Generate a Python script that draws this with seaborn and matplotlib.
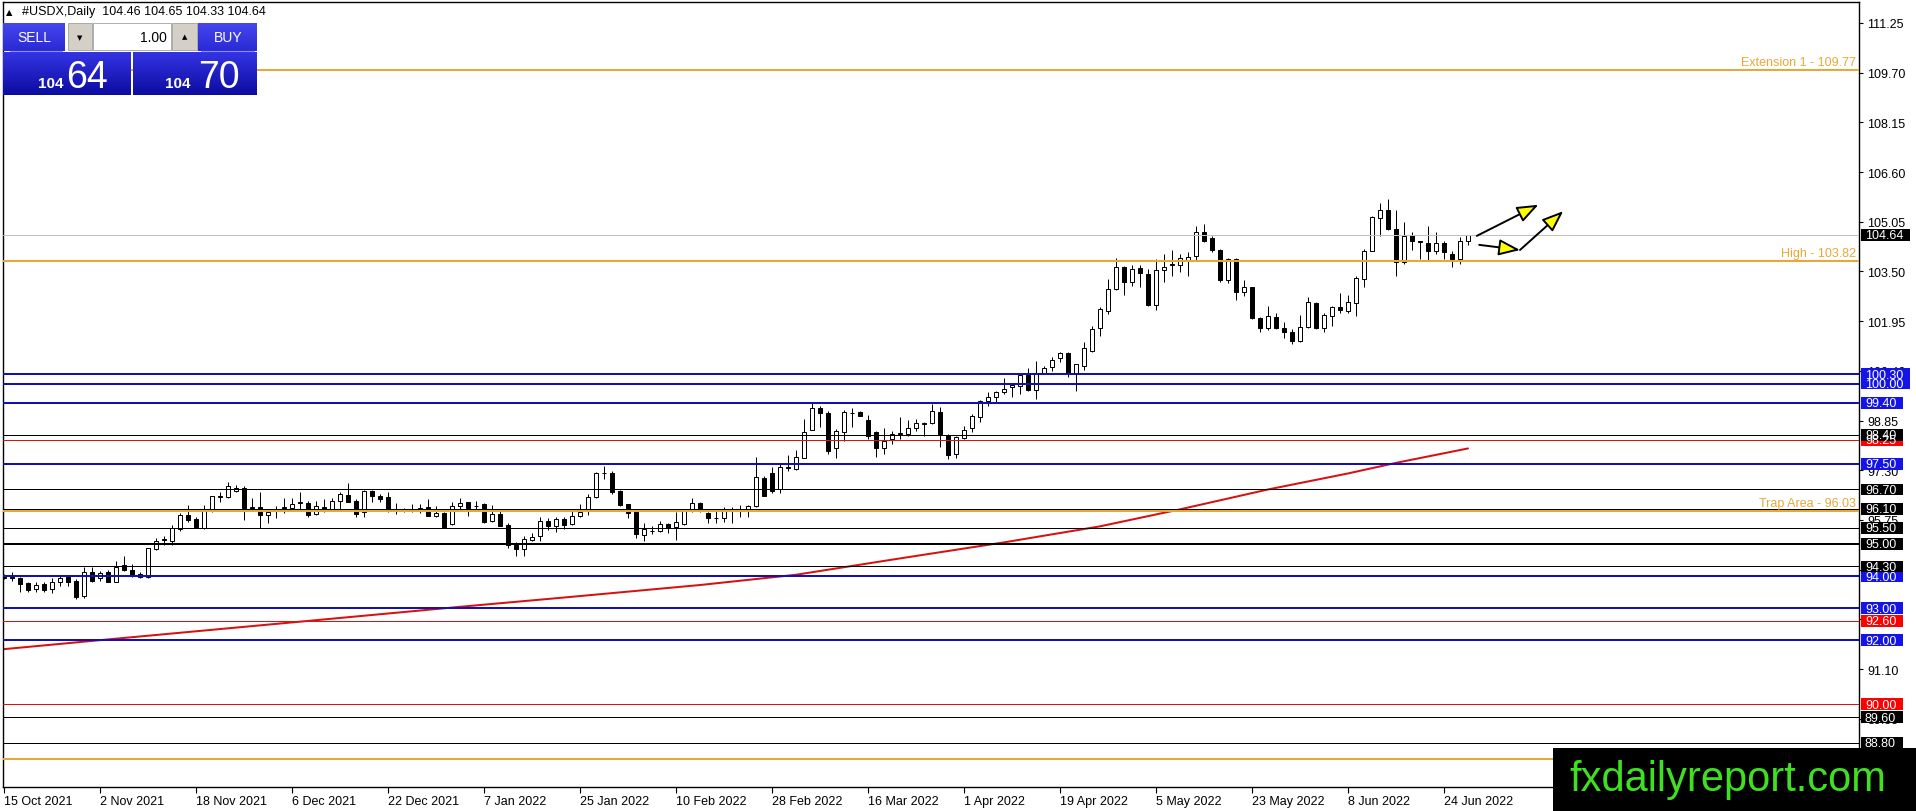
import numpy as np
import pandas as pd
import matplotlib
matplotlib.use("Agg")
import matplotlib.pyplot as plt
import seaborn as sns
from matplotlib.patches import Rectangle

sns.set_theme(style="white")
plt.rcParams["font.family"] = ["Liberation Sans", "DejaVu Sans"]

# ---------------- data ----------------
opens = [93.95, 93.96, 93.93, 93.77, 93.61, 93.74, 93.60, 93.80, 93.96, 93.86,
         93.37, 94.14, 93.93, 94.12, 93.82, 94.33, 94.20, 94.05, 93.96, 94.84,
         95.12, 95.10, 95.47, 95.89, 95.78, 95.49, 96.09, 96.47, 96.46, 96.66,
         96.76, 96.12, 96.16, 95.89, 96.03, 96.12, 96.13, 96.28, 96.27, 95.93,
         96.16, 96.09, 96.35, 96.53, 96.33, 96.01, 96.64, 96.51, 96.46, 96.04,
         96.07, 96.07, 96.12, 96.14, 95.88, 95.97, 95.62, 96.19, 96.30, 96.19,
         96.25, 95.73, 95.93, 95.59, 94.97, 94.84, 95.13, 95.24, 95.73, 95.57,
         95.78, 95.62, 95.88, 96.03, 96.45, 97.20, 97.20, 96.64, 96.25, 95.99,
         95.29, 95.40, 95.40, 95.61, 95.54, 95.62, 96.10, 96.27, 95.97, 95.80,
         95.80, 96.08, 96.05, 96.09, 96.17, 97.05, 97.20, 96.72, 97.38, 97.34,
         97.69, 98.56, 99.23, 99.09, 97.98, 98.48, 99.07, 99.13, 98.87, 98.48,
         97.98, 98.27, 98.43, 98.43, 98.61, 98.73, 98.76, 99.11, 98.41, 97.81,
         98.32, 98.61, 98.95, 99.46, 99.60, 99.73, 99.89, 99.94, 100.28, 99.81,
         100.33, 100.51, 100.79, 100.95, 100.33, 100.56, 101.03, 101.73, 102.28, 102.95,
         103.63, 103.16, 103.61, 103.42, 102.46, 103.56, 103.70, 103.70, 103.87, 103.97,
         104.72, 104.54, 104.17, 103.24, 103.89, 102.85, 103.00, 102.04, 101.73, 102.07,
         101.73, 101.62, 101.34, 101.76, 102.51, 101.73, 102.12, 102.38, 102.28, 102.51,
         103.26, 104.15, 105.16, 105.43, 104.84, 103.78, 104.65, 104.44, 104.38, 104.15,
         104.38, 104.06, 103.89, 104.46]
highs = [94.05, 94.14, 93.96, 93.82, 93.80, 93.80, 93.93, 94.01, 94.03, 93.90,
         94.29, 94.29, 94.17, 94.19, 94.46, 94.64, 94.38, 94.12, 94.88, 95.18,
         95.24, 95.59, 95.97, 96.22, 95.83, 96.22, 96.51, 96.63, 96.94, 96.85,
         96.80, 96.42, 96.63, 96.05, 96.17, 96.42, 96.42, 96.61, 96.35, 96.33,
         96.40, 96.42, 96.61, 96.90, 96.40, 96.69, 96.68, 96.56, 96.61, 96.27,
         96.12, 96.25, 96.25, 96.40, 96.19, 96.00, 96.30, 96.42, 96.32, 96.35,
         96.27, 96.22, 96.03, 95.67, 95.05, 95.26, 95.34, 95.83, 95.80, 95.83,
         95.83, 96.03, 96.25, 96.56, 97.24, 97.42, 97.29, 96.69, 96.26, 96.04,
         95.67, 95.57, 95.73, 95.65, 95.99, 96.04, 96.43, 96.30, 96.01, 96.04,
         96.16, 96.16, 96.23, 96.23, 97.70, 97.13, 97.39, 97.49, 97.78, 97.93,
         98.90, 99.40, 99.29, 99.15, 98.59, 99.19, 99.24, 99.16, 99.02, 98.53,
         98.61, 98.51, 98.95, 98.88, 98.90, 98.81, 99.37, 99.26, 98.43, 98.36,
         98.69, 99.05, 99.49, 99.73, 99.76, 100.17, 99.99, 100.30, 100.48, 100.72,
         100.56, 100.82, 101.00, 101.00, 100.61, 101.29, 101.81, 102.38, 103.26, 103.91,
         103.68, 103.70, 103.70, 103.58, 103.89, 104.04, 104.17, 104.04, 104.10, 104.93,
         104.98, 104.60, 104.20, 103.91, 103.91, 103.24, 103.01, 102.07, 102.41, 102.22,
         101.91, 101.70, 102.14, 102.69, 102.56, 102.22, 102.43, 102.83, 102.77, 103.35,
         104.20, 105.24, 105.64, 105.76, 105.43, 105.05, 104.72, 104.46, 104.91, 104.72,
         104.46, 104.15, 104.56, 104.65]
lows = [93.90, 93.86, 93.49, 93.49, 93.49, 93.50, 93.46, 93.70, 93.70, 93.28,
        93.31, 93.80, 93.86, 93.80, 93.80, 94.17, 93.96, 93.93, 93.94, 94.82,
        94.97, 94.97, 95.40, 95.70, 95.49, 95.47, 96.01, 96.30, 96.42, 96.63,
        95.75, 96.07, 95.49, 95.65, 95.80, 95.97, 96.10, 96.09, 95.83, 95.90,
        95.99, 96.07, 96.09, 96.32, 95.83, 95.85, 96.32, 96.32, 95.99, 95.93,
        96.00, 96.01, 95.97, 95.86, 95.83, 95.50, 95.59, 96.09, 95.86, 96.09,
        95.67, 95.70, 95.55, 94.89, 94.64, 94.61, 95.10, 95.10, 95.45, 95.38,
        95.47, 95.59, 95.83, 95.90, 96.42, 97.03, 96.56, 96.20, 95.80, 95.18,
        95.10, 95.31, 95.36, 95.34, 95.13, 95.60, 96.01, 96.01, 95.67, 95.67,
        95.70, 95.65, 95.83, 95.83, 96.14, 96.49, 96.58, 96.59, 97.29, 97.32,
        97.69, 98.56, 98.66, 97.81, 97.67, 98.22, 98.66, 98.98, 98.27, 97.70,
        97.81, 98.12, 98.29, 98.36, 98.53, 98.38, 98.74, 98.01, 97.65, 97.67,
        98.29, 98.48, 98.81, 99.29, 99.39, 99.69, 99.59, 99.68, 99.78, 99.52,
        100.30, 100.40, 100.67, 100.20, 99.78, 100.44, 101.00, 101.48, 102.17, 102.93,
        102.77, 103.06, 103.00, 102.41, 102.31, 103.16, 103.35, 103.47, 103.35, 103.87,
        104.43, 104.10, 103.18, 103.14, 102.62, 102.72, 102.02, 101.62, 101.68, 101.70,
        101.41, 101.24, 101.31, 101.73, 101.70, 101.60, 101.81, 102.20, 102.20, 102.12,
        103.01, 104.15, 104.60, 104.80, 103.37, 103.73, 104.18, 103.89, 103.87, 104.04,
        103.89, 103.63, 103.73, 104.33]
closes = [93.98, 93.95, 93.75, 93.58, 93.73, 93.58, 93.82, 93.93, 93.82, 93.34,
          94.12, 93.86, 94.08, 93.82, 94.29, 94.20, 94.03, 93.98, 94.86, 95.10,
          95.14, 95.50, 95.89, 95.75, 95.52, 96.07, 96.49, 96.50, 96.82, 96.76,
          96.11, 96.14, 95.89, 96.01, 96.05, 96.14, 96.26, 96.30, 95.90, 96.19,
          96.04, 96.34, 96.56, 96.32, 95.93, 96.64, 96.49, 96.40, 96.04, 96.03,
          96.06, 96.08, 96.10, 95.88, 95.97, 95.52, 96.19, 96.27, 96.11, 96.20,
          95.70, 95.93, 95.57, 94.97, 94.84, 95.15, 95.23, 95.73, 95.57, 95.78,
          95.59, 95.86, 96.01, 96.46, 97.20, 97.21, 96.61, 96.22, 95.96, 95.31,
          95.47, 95.42, 95.61, 95.51, 95.68, 96.02, 96.27, 96.07, 95.80, 95.82,
          96.09, 96.10, 96.07, 96.17, 97.08, 96.51, 96.66, 97.39, 97.40, 97.70,
          98.48, 99.23, 99.09, 97.91, 98.51, 99.13, 99.08, 99.00, 98.38, 97.99,
          98.20, 98.43, 98.45, 98.61, 98.76, 98.77, 99.15, 98.43, 97.79, 98.33,
          98.54, 98.98, 99.47, 99.60, 99.73, 99.82, 99.95, 100.28, 99.81, 100.30,
          100.48, 100.75, 100.95, 100.33, 100.61, 101.10, 101.71, 102.33, 102.95, 103.63,
          103.16, 103.58, 103.44, 102.45, 103.55, 103.63, 103.72, 103.91, 103.96, 104.72,
          104.44, 104.18, 103.23, 103.89, 102.85, 103.00, 102.04, 101.73, 102.10, 101.73,
          101.60, 101.32, 101.76, 102.54, 101.73, 102.14, 102.38, 102.31, 102.54, 103.29,
          104.15, 105.19, 105.43, 104.82, 103.78, 104.62, 104.44, 104.42, 104.15, 104.39,
          104.10, 103.89, 104.46, 104.64]

# moving average (red line) read at anchor bars
ma_bars = [0, 12, 25, 38, 57, 70, 87, 99, 112, 125, 137, 147, 158, 168, 174, 183]
ma_vals = [91.72, 92.00, 92.30, 92.60, 93.04, 93.33, 93.72, 94.04, 94.55,
           95.05, 95.55, 96.08, 96.70, 97.20, 97.53, 97.98]

tick_bars = [0, 12, 24, 36, 48, 60, 72, 84, 96, 108, 120, 132, 144, 156, 168, 180]
date_labels = ["15 Oct 2021", "2 Nov 2021", "18 Nov 2021", "6 Dec 2021", "22 Dec 2021",
               "7 Jan 2022", "25 Jan 2022", "10 Feb 2022", "28 Feb 2022", "16 Mar 2022",
               "1 Apr 2022", "19 Apr 2022", "5 May 2022", "23 May 2022", "8 Jun 2022",
               "24 Jun 2022"]
axis_ticks = [111.25, 109.70, 108.15, 106.60, 105.05, 103.50, 101.95, 100.40, 98.85,
              97.30, 95.75, 94.20, 92.65, 91.10, 89.55, 88.00]

blue_levels = [100.30, 100.00, 99.40, 97.50, 94.00, 93.00, 92.00]
black_thin_levels = [98.40, 96.70, 96.10, 95.50, 94.30, 89.60, 88.80]
black_thick_levels = [95.00]
red_levels = [98.25, 92.60, 90.00]
orange_levels = [109.77, 103.82, 96.03, 88.30]
orange_texts = [(109.77, "Extension 1 - 109.77"), (103.82, "High - 103.82"),
                (96.03, "Trap Area - 96.03")]
current_price = 104.64

# right-side price boxes, drawn in this order
price_boxes = [(104.64, "black"), (100.30, "blue"), (100.00, "blue"), (99.40, "blue"),
               (98.25, "red"), (98.40, "black"), (97.50, "blue"), (96.70, "black"),
               (96.10, "black"), (95.50, "black"), (95.00, "black"), (94.00, "blue"),
               (94.30, "black"), (93.00, "blue"), (92.60, "red"), (92.00, "blue"),
               (90.00, "red"), (89.60, "black"), (88.80, "black")]

# arrows (bar index, price)
arrows = [((184.1, 104.61), (191.8, 105.58)),
          ((184.4, 104.33), (189.5, 104.17)),
          ((189.5, 104.17), (194.9, 105.38))]

# ---------------- figure ----------------
W, H = 1916, 812
fig = plt.figure(figsize=(W / 100, H / 100), dpi=100, facecolor="white")
ax = fig.add_axes([3 / W, 24 / H, 1856 / W, 785 / H])
ax.set_facecolor("white")

BLUE = "#1010B4"
BOXBLUE = "#1414E6"
RED = "#E01010"
ORANGE = "#E8A838"
PX = 0.72

df = pd.DataFrame({"open": opens, "high": highs, "low": lows, "close": closes})
df["bar"] = np.arange(len(df))
up = df["close"] >= df["open"]
bottom = np.minimum(df["open"], df["close"])
height = np.maximum(np.abs(df["close"] - df["open"]), 0.008)

# MA line
sns.lineplot(x=ma_bars, y=ma_vals, ax=ax, color="#D81010", linewidth=2 * PX, zorder=2)

# candles
ax.vlines(df["bar"], df["low"], df["high"], color="black", linewidth=1 * PX, zorder=3)
ax.bar(df["bar"], height, bottom=bottom, width=0.62,
       color=np.where(up, "white", "black"), edgecolor="black",
       linewidth=1 * PX, zorder=4)

# horizontal levels
ax.axhline(current_price, color="#C0C0C0", linewidth=1 * PX, zorder=5)
for v in blue_levels:
    ax.axhline(v, color=BLUE, linewidth=2 * PX, zorder=6)
for v in black_thin_levels:
    ax.axhline(v, color="black", linewidth=1 * PX, zorder=6)
for v in black_thick_levels:
    ax.axhline(v, color="black", linewidth=2 * PX, zorder=6)
for v in red_levels:
    ax.axhline(v, color=RED, linewidth=1 * PX, zorder=6)
for v in orange_levels:
    ax.axhline(v, color=ORANGE, linewidth=2 * PX, zorder=6)

for v, t in orange_texts:
    ax.annotate(t, xy=(1.0, v), xycoords=("axes fraction", "data"),
                xytext=(-2, 1.5), textcoords="offset points",
                ha="right", va="bottom", color=ORANGE, fontsize=9, zorder=7)

for s, e in arrows:
    ax.annotate("", xy=e, xytext=s, xycoords="data",
                arrowprops=dict(arrowstyle="-|>,head_length=1.3,head_width=0.5",
                                fc="#FFFF00", ec="black", lw=1.4,
                                shrinkA=0, shrinkB=0, mutation_scale=10),
                zorder=8)

ax.set_xlim(-0.125, 231.875)
ax.set_ylim(87.42, 111.905)

ax.yaxis.tick_right()
ax.set_yticks(axis_ticks)
ax.set_yticklabels([f"{t:.2f}" for t in axis_ticks])
ax.tick_params(axis="y", which="both", right=True, left=False, direction="out",
               length=3, width=0.8, pad=3, labelsize=9, colors="black")
ax.set_xticks(tick_bars)
ax.set_xticklabels(date_labels, ha="left")
ax.tick_params(axis="x", bottom=True, direction="out", length=4, width=0.8,
               pad=2, labelsize=9, colors="black")
for sp in ax.spines.values():
    sp.set_color("black")
    sp.set_linewidth(1.0)
ax.grid(False)

# ---------------- overlay (pixel coordinates) ----------------
ov = fig.add_axes([0, 0, 1, 1], zorder=10)
ov.set_xlim(0, W)
ov.set_ylim(H, 0)
ov.axis("off")


def ypx(v):
    return H - ax.transData.transform((0, v))[1]


box_colors = {"black": "black", "blue": BOXBLUE, "red": "#FF0000"}
for v, kind in price_boxes:
    y = ypx(v)
    w = 49 if v >= 100 else 42
    ov.add_patch(Rectangle((1861, y - 5.8), w, 11.6, facecolor=box_colors[kind],
                           edgecolor="none"))
    ov.text(1865, y + 0.5, f"{v:.2f}", color="white", fontsize=9, va="center", ha="left")


def grad_rect(x0, y0, x1, y1, ctop, cbot):
    c1 = np.array(matplotlib.colors.to_rgb(ctop))
    c2 = np.array(matplotlib.colors.to_rgb(cbot))
    t = np.linspace(0, 1, 64)[:, None]
    img = (c1 * (1 - t) + c2 * t)[:, None, :]
    ov.imshow(img, extent=[x0, x1, y1, y0], origin="upper", aspect="auto",
              interpolation="bilinear", zorder=2)


# title
ov.text(6, 12.5, "▲", fontsize=6, color="black", va="center", ha="left",
        family=["DejaVu Sans"])
ov.text(22, 12.5, "#USDX,Daily  104.46 104.65 104.33 104.64", fontsize=9,
        color="black", va="center", ha="left")

# trading panel
grad_rect(3, 24, 65, 52, "#4646EC", "#2A2AD6")
grad_rect(198, 24, 257, 52, "#4646EC", "#2A2AD6")
ov.add_patch(Rectangle((68, 24), 24, 27, facecolor="#D4D0C8", edgecolor="#A0A0A0",
                       lw=0.6, zorder=3))
ov.add_patch(Rectangle((93, 24), 78, 27, facecolor="white", edgecolor="#A0A0A0",
                       lw=0.6, zorder=3))
ov.add_patch(Rectangle((172, 24), 25, 27, facecolor="#D4D0C8", edgecolor="#A0A0A0",
                       lw=0.6, zorder=3))
ov.plot([10, 62], [51.5, 51.5], color="#8C8CF0", lw=0.8, zorder=3)
ov.plot([201, 254], [51.5, 51.5], color="#8C8CF0", lw=0.8, zorder=3)
grad_rect(3, 53, 131, 96, "#3434E4", "#0C0CA0")
grad_rect(133, 53, 257, 96, "#3434E4", "#0C0CA0")
ov.text(34, 38, "SELL", color="white", fontsize=10, ha="center", va="center", zorder=4)
ov.text(228, 38, "BUY", color="white", fontsize=10, ha="center", va="center", zorder=4)
ov.text(167, 37.5, "1.00", color="black", fontsize=10, ha="right", va="center", zorder=4)
ov.text(80, 38, "▼", color="black", fontsize=5, ha="center", va="center", zorder=4,
        family=["DejaVu Sans"])
ov.text(184.5, 37, "▲", color="black", fontsize=5, ha="center", va="center", zorder=4,
        family=["DejaVu Sans"])
ov.text(38, 88, "104", color="white", fontsize=11, fontweight="bold", ha="left",
        va="baseline", zorder=4)
ov.text(66, 88, "64", color="white", fontsize=27, ha="left", va="baseline", zorder=4)
ov.text(165, 88, "104", color="white", fontsize=11, fontweight="bold", ha="left",
        va="baseline", zorder=4)
ov.text(198, 88, "70", color="white", fontsize=27, ha="left", va="baseline", zorder=4)

# watermark
ov.add_patch(Rectangle((1553, 749), W - 1553, H - 749, facecolor="black",
                       edgecolor="none", zorder=5))
ov.text(1569, 791, "fxdailyreport.com", color="#3FE01F", fontsize=30,
        ha="left", va="baseline", zorder=6, family=["Liberation Sans"])

ov.set_xlim(0, W)
ov.set_ylim(H, 0)

fig.savefig("out.png", dpi=100, facecolor="white")
